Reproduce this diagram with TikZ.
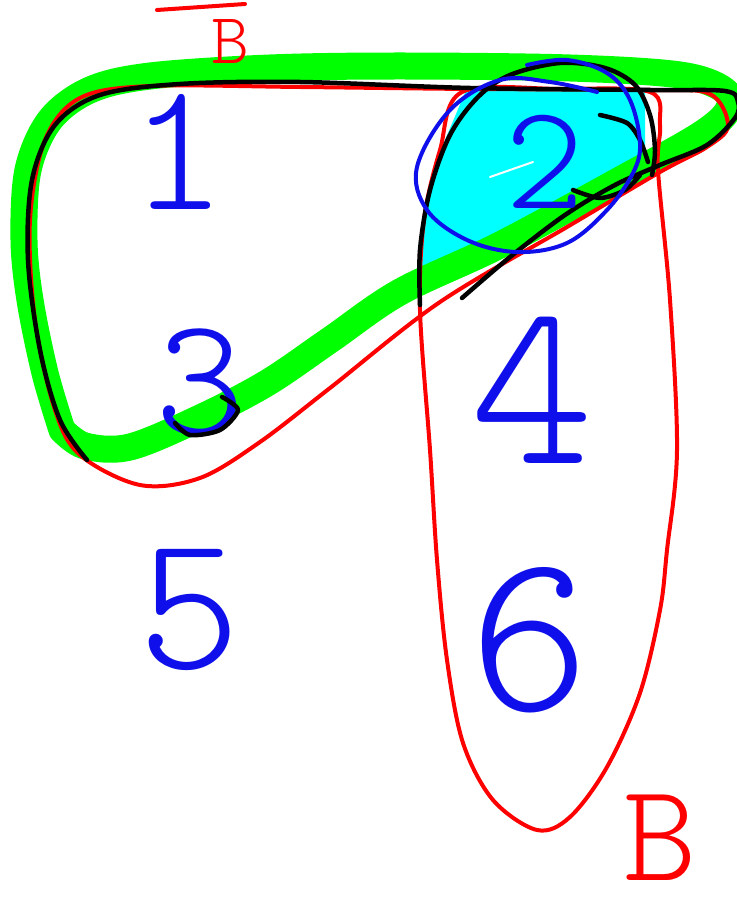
\documentclass[tikz,border=0pt]{standalone}
\usepackage{fontspec}
\newfontfamily\hand{Latin Modern Mono Light}
\definecolor{hgreen}{RGB}{0,255,0}
\definecolor{hcyan}{RGB}{0,255,255}
\definecolor{hred}{RGB}{255,0,0}
\definecolor{hblue}{RGB}{15,15,235}
\tikzset{
  greenband/.style={draw=hgreen, line width=27pt},
  redline/.style={draw=hred, line width=4pt},
  blackline/.style={draw=black, line width=4.5pt},
  blueline/.style={draw=hblue, line width=4pt},
  digit/.style={text=hblue, inner sep=0pt},
  redtext/.style={text=hred, inner sep=0pt},
}
\begin{document}
\begin{tikzpicture}[x=1pt,y=-1pt,line cap=round,line join=round]
\useasboundingbox[fill=white] (0,0) rectangle (736,917);
% cyan region
\fill[hcyan] (467,88) -- (645,88) -- (645,170) -- (420,285) -- (418,250) -- (430,195) -- (445,140) -- cycle;
% green band
\draw[greenband] plot[smooth, tension=0.55] coordinates {(62,430) (45,373) (30,300) (24,240) (28,170) (50,120) (90,90) (150,76) (270,68) (400,66) (570,68) (680,75) (724,90) (728,110) (700,135) (620,180) (500,245) (400,292) (330,340) (267,383) (200,418) (130,447) (85,446) (62,430)};
% red region A
\draw[redline] plot[smooth cycle, tension=0.55] coordinates {(80,455) (140,485) (200,478) (260,442) (330,388) (440,302) (567,227) (660,172) (707,147) (728,126) (710,94) (650,90) (470,89) (300,87) (150,86) (80,98) (45,140) (30,220) (35,320) (55,410)};
% red region B
\draw[redline] plot[smooth cycle, tension=0.55] coordinates {(462,92) (560,89) (650,92) (660,125) (658,170) (670,300) (677,450) (667,550) (660,610) (640,693) (607,767) (570,817) (537,830) (493,800) (463,743) (447,660) (437,560) (430,450) (420,310) (424,220) (440,150)};
% black outline
\draw[blackline] plot[smooth, tension=0.55] coordinates {(87,460) (60,420) (40,350) (28,260) (32,180) (55,125) (100,95) (180,84) (300,82) (470,88) (650,90) (725,91) (738,102) (735,118) (707,145) (660,165) (615,185) (565,215) (510,257) (462,298)};
\draw[blackline] plot[smooth, tension=0.55] coordinates {(420,305) (420,250) (430,190) (450,135) (478,97) (510,75) (560,63) (605,68) (635,85) (650,115) (655,150) (652,175)};
\draw[blackline] plot[smooth] coordinates {(600,115) (627,123) (640,140) (648,162)};
\draw[blackline] plot[smooth] coordinates {(573,190) (600,198) (625,190) (640,175)};
% white streak
\draw[white, line width=2pt] (490,177) -- (533,162);
% blue loop around 2
\draw[blueline] plot[smooth, tension=0.6] coordinates {(597,92) (550,82) (500,80) (450,110) (417,167) (427,210) (467,240) (517,252) (567,243) (607,210) (633,173) (640,143) (630,100) (607,73) (567,60) (527,65)};
% digits
\node[digit, font=\hand\fontsize{185}{185}\selectfont] (n1) at (178,152) {1};
\node[digit, font=\hand\fontsize{150}{150}\selectfont] (n2) at (545,162) {2};
\node[digit, font=\hand\fontsize{170}{170}\selectfont] (n3) at (200,383) {3};
\node[digit, font=\hand\fontsize{235}{235}\selectfont] (n4) at (532,390) {4};
\node[digit, font=\hand\fontsize{195}{195}\selectfont] (n5) at (190,610) {5};
\node[digit, font=\hand\fontsize{230}{230}\selectfont] (n6) at (530,640) {6};
\draw[blackline] plot[smooth] coordinates {(222,397) (238,410) (220,430) (190,435) (175,423)};
% B labels
\node[redtext, font=\hand\fontsize{140}{140}\selectfont] (bb) at (660,838) {B};
\node[redtext, font=\hand\fontsize{72}{72}\selectfont] (bt) at (230,42) {B};
\draw[redline] (157,10) -- (245,4);
\end{tikzpicture}
\end{document}
